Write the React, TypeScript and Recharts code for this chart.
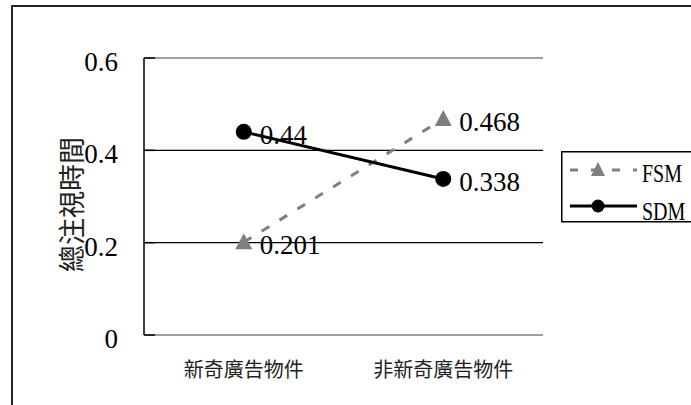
import {
  LineChart,
  Line,
  XAxis,
  YAxis,
  ReferenceLine,
  LabelList,
  Legend,
} from "recharts";

const categories = ["新奇廣告物件", "非新奇廣告物件"];
const fsmValues = [0.201, 0.468];
const sdmValues = [0.44, 0.338];
const yTicks = [0, 0.2, 0.4, 0.6];
const gridValues = [0.2, 0.4];
const yLabel = "總注視時間";

const data = categories.map((name, i) => ({
  name,
  FSM: fsmValues[i],
  SDM: sdmValues[i],
}));

const SERIF = "'Liberation Serif', 'Times New Roman', serif";
const CJK = "'Noto Sans CJK TC', 'Noto Sans CJK SC', sans-serif";
const GRAY = "#7f7f7f";

function TriangleDot(props: any) {
  const { cx, cy } = props;
  if (cx == null || cy == null) return null;
  return (
    <path
      d={`M${cx},${cy - 9} L${cx + 8.5},${cy + 7} L${cx - 8.5},${cy + 7} Z`}
      fill={GRAY}
    />
  );
}

function CircleDot(props: any) {
  const { cx, cy } = props;
  if (cx == null || cy == null) return null;
  return <circle cx={cx} cy={cy} r={8} fill="#000" />;
}

function ValueLabel(props: any) {
  const { x, y, value } = props;
  return (
    <text
      x={x + 16}
      y={y + 3}
      dominantBaseline="central"
      fontFamily={SERIF}
      fontSize={27}
      fill="#000"
    >
      {value}
    </text>
  );
}

function YTick(props: any) {
  const { x, y, payload } = props;
  const v = payload.value as number;
  return (
    <g>
      <line x1={x} x2={x + 11} y1={y} y2={y} stroke="#000" strokeWidth={1.5} />
      <text
        x={x - 26}
        y={y + 4}
        textAnchor="end"
        dominantBaseline="central"
        fontFamily={SERIF}
        fontSize={27}
        fill="#000"
      >
        {v === 0 ? "0" : v.toFixed(1)}
      </text>
    </g>
  );
}

function XTick(props: any) {
  const { x, y, payload } = props;
  return (
    <text
      x={x}
      y={y}
      textAnchor="middle"
      dominantBaseline="central"
      fontFamily={CJK}
      fontSize={20}
      fill="#222"
    >
      {payload.value}
    </text>
  );
}

function YLabel(props: any) {
  const vb = props.viewBox;
  const cx = vb.x + vb.width / 2 - 2;
  const cy = vb.y + vb.height / 2 + 8;
  return (
    <text
      x={cx}
      y={cy}
      transform={`rotate(-90, ${cx}, ${cy})`}
      textAnchor="middle"
      dominantBaseline="central"
      fontFamily={CJK}
      fontSize={27}
      fill="#222"
    >
      {yLabel}
    </text>
  );
}

function LegendBox(props: any) {
  const items = props.payload || [];
  return (
    <svg width={130} height={72} style={{ display: "block" }}>
      <rect x={0.75} y={0.75} width={160} height={70} fill="#fff" stroke="#000" strokeWidth={1.5} />
      {items.map((item: any, i: number) => {
        const ly = i === 0 ? 19 : 55;
        const ty = i === 0 ? 31 : 69;
        const isFsm = item.value === "FSM";
        return (
          <g key={item.value}>
            <line
              x1={9}
              x2={76}
              y1={ly}
              y2={ly}
              stroke={isFsm ? GRAY : "#000"}
              strokeWidth={3}
              strokeDasharray={isFsm ? "8 13" : undefined}
            />
            {isFsm ? (
              <path d={`M37,${ly - 8} L44,${ly + 6} L30,${ly + 6} Z`} fill={GRAY} />
            ) : (
              <circle cx={37} cy={ly} r={6.5} fill="#000" />
            )}
            <text
              transform={`translate(81, ${ty}) scale(0.8, 1)`}
              fontFamily={SERIF}
              fontSize={25}
              fill="#000"
            >
              {item.value}
            </text>
          </g>
        );
      })}
    </svg>
  );
}

export default function App() {
  return (
    <div
      style={{
        position: "absolute",
        left: 0,
        top: 0,
        width: 691,
        height: 405,
        overflow: "hidden",
        background: "#fff",
      }}
    >
      <div
        style={{
          position: "absolute",
          left: 11,
          top: 5,
          width: 720,
          height: 440,
          borderLeft: "2px solid #222",
          borderTop: "2px solid #222",
          zIndex: 1,
          pointerEvents: "none",
        }}
      />
      <LineChart
        width={691}
        height={405}
        data={data}
        margin={{ top: 58, right: 148, bottom: 0, left: 0 }}
      >
        <XAxis
          dataKey="name"
          scale="band"
          height={70}
          interval={0}
          tickSize={0}
          tickMargin={33}
          tickLine={false}
          axisLine={{ stroke: GRAY, strokeWidth: 1.5 }}
          tick={<XTick />}
        />
        <YAxis
          yAxisId="v"
          width={144}
          domain={[0, 0.6]}
          ticks={yTicks}
          tickSize={0}
          tickMargin={0}
          tickLine={false}
          axisLine={{ stroke: "#000", strokeWidth: 1.5 }}
          tick={<YTick />}
          label={{ content: (p: any) => <YLabel {...p} /> }}
        />
        <YAxis
          yAxisId="r"
          orientation="right"
          width={0}
          domain={[0, 0.6]}
          tick={false}
          tickLine={false}
          axisLine={{ stroke: GRAY, strokeWidth: 1.5 }}
        />
        {gridValues.map((g) => (
          <ReferenceLine key={g} yAxisId="v" y={g} stroke="#000" strokeWidth={1.2} />
        ))}
        <ReferenceLine yAxisId="v" y={0.6} stroke={GRAY} strokeWidth={1.5} />
        <Legend
          layout="horizontal"
          verticalAlign="middle"
          align="center"
          content={<LegendBox />}
          wrapperStyle={{ position: "absolute", left: 561, top: 151, width: 130, height: 72 }}
        />
        <Line
          yAxisId="v"
          dataKey="FSM"
          name="FSM"
          stroke={GRAY}
          strokeWidth={3}
          strokeDasharray="9 12"
          dot={<TriangleDot />}
          activeDot={false}
          isAnimationActive={false}
        >
          <LabelList dataKey="FSM" content={<ValueLabel />} />
        </Line>
        <Line
          yAxisId="v"
          dataKey="SDM"
          name="SDM"
          stroke="#000"
          strokeWidth={3}
          dot={<CircleDot />}
          activeDot={false}
          isAnimationActive={false}
        >
          <LabelList dataKey="SDM" content={<ValueLabel />} />
        </Line>
      </LineChart>
    </div>
  );
}
